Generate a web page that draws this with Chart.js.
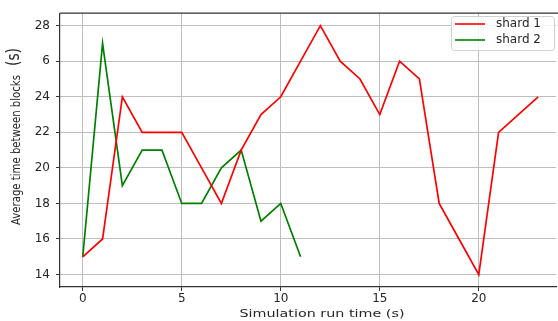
<!DOCTYPE html>
<html>
<head>
<meta charset="utf-8">
<script src="https://cdn.jsdelivr.net/npm/chart.js@4.4.1/dist/chart.umd.min.js"></script>
<style>
  html, body { margin: 0; padding: 0; background: #fff; }
  #wrap { width: 558px; height: 321px; position: relative; }
</style>
</head>
<body>
<div id="wrap"><canvas id="blocksChart"></canvas></div>
<script>
// data
var shard1Time = [0, 1, 2, 3, 4, 5, 6, 7, 8, 9, 10, 11, 12, 13, 14, 15, 16, 17, 18, 19, 20, 21, 22, 23];
var shard1Avg = [15, 16, 24, 22, 22, 22, 20, 18, 21, 23, 24, 26, 28, 26, 25, 23, 26, 25, 18, 16, 14, 22, 23, 24];
var shard2Time = [0, 1, 2, 3, 4, 5, 6, 7, 8, 9, 10, 11];
var shard2Avg = [15, 27, 19, 21, 21, 18, 18, 20, 21, 17, 18, 15];
var seriesNames = ["shard 1", "shard 2"];
var xTicks = [0, 5, 10, 15, 20];
var yTicks = [14, 16, 18, 20, 22, 24, 26, 28];
var yTickLabels = ["14", "16", "18", "20", "22", "24", "6", "28"];
var xTitle = "Simulation run time (s)";
var yTitle = "Average time between blocks";
var yTitleUnit = "(s)";

var FONT = "'DejaVu Sans', sans-serif";
var TEXT = "#262626";

function toPoints(xs, ys) {
  return xs.map(function (x, i) { return { x: x, y: ys[i] }; });
}

// axis titles, drawn by hand so the text can be stretched like the picture
var titlesPlugin = {
  id: "axisTitles",
  afterDraw: function (chart) {
    var c = chart.ctx;
    c.save();
    c.fillStyle = TEXT;
    c.textBaseline = "alphabetic";

    // x title, wide letters
    c.font = "11px " + FONT;
    var wx = c.measureText(xTitle).width;
    c.save();
    c.translate(322, 317);
    c.scale(165 / wx, 1);
    c.textAlign = "center";
    c.fillText(xTitle, 0, 0);
    c.restore();

    // y title, rotated; along-text squeezed
    c.save();
    c.translate(20, 0);
    c.rotate(-Math.PI / 2);
    c.font = "10.5px " + FONT;
    var wy = c.measureText(yTitle).width;
    c.save();
    c.translate(-225, 0);
    c.scale(150 / wy, 1.2);
    c.textAlign = "left";
    c.fillText(yTitle, 0, 0);
    c.restore();
    c.font = "13px " + FONT;
    var wu = c.measureText(yTitleUnit).width;
    c.save();
    c.translate(-66, -1);
    c.scale(18 / wu, 1.35);
    c.textAlign = "left";
    c.fillText(yTitleUnit, 0, 0);
    c.restore();
    c.restore();

    c.restore();
  }
};

// legend box in the upper right corner
var legendPlugin = {
  id: "cornerLegend",
  afterDraw: function (chart) {
    var c = chart.ctx;
    var x0 = 451, y0 = 16, w = 103, h = 34;
    c.save();
    c.fillStyle = "rgba(255,255,255,0.85)";
    c.strokeStyle = "#d0d0d0";
    c.lineWidth = 1;
    c.beginPath();
    c.roundRect(x0 + 0.5, y0 + 0.5, w, h, 3);
    c.fill();
    c.stroke();
    c.font = "12px " + FONT;
    c.textBaseline = "middle";
    c.textAlign = "left";
    chart.data.datasets.forEach(function (ds, i) {
      var y = y0 + 8 + i * 16;
      c.strokeStyle = ds.borderColor;
      c.lineWidth = 1.6;
      c.beginPath();
      c.moveTo(x0 + 4, y);
      c.lineTo(x0 + 34, y);
      c.stroke();
      c.fillStyle = TEXT;
      c.fillText(ds.label, x0 + 45, y);
    });
    c.restore();
  }
};

var topSpine = {
  id: "topSpine",
  afterDraw: function (chart) {
    var c = chart.ctx, a = chart.chartArea;
    c.save();
    c.strokeStyle = "#333";
    c.lineWidth = 1.2;
    c.beginPath();
    c.moveTo(a.left, a.top);
    c.lineTo(a.right + 2, a.top);
    c.stroke();
    c.restore();
  }
};

var ctx = document.getElementById("blocksChart").getContext("2d");
var blocksChart = new Chart(ctx, {
  type: "line",
  data: {
    datasets: [{
      label: seriesNames[0],
      data: toPoints(shard1Time, shard1Avg),
      borderColor: "#ff0000",
      borderWidth: 1.7,
      pointRadius: 0,
      tension: 0,
      fill: false
    }, {
      label: seriesNames[1],
      data: toPoints(shard2Time, shard2Avg),
      borderColor: "#008000",
      borderWidth: 1.7,
      pointRadius: 0,
      tension: 0,
      fill: false
    }]
  },
  options: {
    responsive: true,
    maintainAspectRatio: false,
    animation: false,
    layout: { padding: { top: 11, right: 2, left: 0, bottom: 0 } },
    plugins: {
      legend: { display: false },
      tooltip: { enabled: false }
    },
    scales: {
      x: {
        type: "linear",
        min: -1.15,
        max: 23.9,
        afterBuildTicks: function (scale) {
          scale.ticks = xTicks.map(function (v) { return { value: v }; });
        },
        afterFit: function (scale) { scale.height = 34; },
        grid: { color: "#bdbdbd", lineWidth: 1, tickLength: 4, drawTicks: true, tickColor: "#333" },
        border: { display: true, color: "#333", width: 1.2 },
        ticks: { color: TEXT, font: { family: FONT, size: 12 }, padding: 1, maxRotation: 0 }
      },
      y: {
        type: "linear",
        min: 13.3,
        max: 28.7,
        afterBuildTicks: function (scale) {
          scale.ticks = yTicks.map(function (v) { return { value: v }; });
        },
        afterFit: function (scale) { scale.width = 60; },
        grid: { color: "#bdbdbd", lineWidth: 1, tickLength: 4, drawTicks: true, tickColor: "#333" },
        border: { display: true, color: "#333", width: 1.2 },
        ticks: {
          color: TEXT,
          font: { family: FONT, size: 12 },
          padding: 6,
          callback: function (value) {
            var i = yTicks.indexOf(value);
            return i >= 0 ? yTickLabels[i] : "";
          }
        }
      }
    }
  },
  plugins: [titlesPlugin, legendPlugin, topSpine]
});
</script>
</body>
</html>
